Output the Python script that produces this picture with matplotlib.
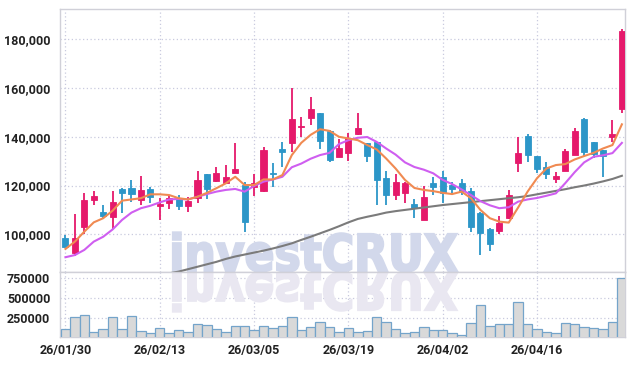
import matplotlib
matplotlib.use("Agg")
import matplotlib.pyplot as plt
import numpy as np
from matplotlib.textpath import TextPath
from matplotlib.patches import PathPatch
from matplotlib.font_manager import FontProperties
import matplotlib.transforms as mtransforms
from matplotlib.ticker import FuncFormatter, FixedLocator

# ---------------- data ----------------
dates = ["26/01/30", "26/02/02", "26/02/03", "26/02/04", "26/02/05", "26/02/06", "26/02/09", "26/02/10",
         "26/02/11", "26/02/12", "26/02/13", "26/02/19", "26/02/20", "26/02/23", "26/02/24", "26/02/25",
         "26/02/26", "26/02/27", "26/03/03", "26/03/04", "26/03/05", "26/03/06", "26/03/09", "26/03/10",
         "26/03/11", "26/03/12", "26/03/13", "26/03/16", "26/03/17", "26/03/18", "26/03/19", "26/03/20",
         "26/03/23", "26/03/24", "26/03/25", "26/03/26", "26/03/27", "26/03/30", "26/03/31", "26/04/01",
         "26/04/02", "26/04/03", "26/04/06", "26/04/07", "26/04/08", "26/04/09", "26/04/10", "26/04/13",
         "26/04/14", "26/04/15", "26/04/16", "26/04/17", "26/04/20", "26/04/21", "26/04/22", "26/04/23",
         "26/04/24", "26/04/27", "26/04/28", "26/04/29"]

opens = [98400, 92200, 103100, 114100, 109000, 107200, 118600, 119000, 114100, 118600,
         111600, 112700, 114500, 111700, 114900, 124700, 122000, 120900, 125200, 120300,
         119500, 117900, 125100, 135000, 137300, 144100, 147900, 149600, 142500, 131800,
         133400, 141000, 137300, 137700, 122900, 116100, 117000, 112400, 105900, 120900,
         123400, 120200, 121100, 117900, 108900, 102300, 101500, 106600, 129300, 140300,
         132100, 127700, 122800, 126100, 132500, 147300, 137800, 134500, 139800, 151300]
highs = [99700, 108200, 116800, 117900, 111900, 117900, 118800, 122300, 123800, 119300,
         114900, 116100, 116100, 115200, 126100, 124900, 127500, 128300, 137500, 121600,
         124700, 135900, 129100, 137700, 159800, 148200, 156400, 149800, 142700, 138900,
         141400, 149600, 137500, 137900, 125900, 124700, 121300, 114300, 119800, 123400,
         126000, 121300, 122700, 118900, 109000, 102400, 107500, 118200, 140000, 141000,
         132200, 129800, 125700, 134800, 143700, 147500, 137900, 134600, 146800, 184000]
lows = [94800, 91100, 100100, 111900, 106100, 102000, 108900, 113400, 111900, 112700,
        105900, 110200, 110000, 109000, 113000, 114300, 121600, 120600, 125000, 101100,
        115700, 117300, 119300, 127700, 133800, 140000, 144800, 134800, 129800, 131600,
        130000, 140700, 129800, 112000, 112000, 114100, 112700, 106600, 105700, 116100,
        113000, 116100, 116100, 101100, 91500, 93300, 100000, 106100, 125700, 129800,
        125000, 122700, 120900, 126000, 132400, 132100, 131100, 123400, 137900, 149600]
closes = [94900, 98400, 114100, 115700, 107500, 113200, 117000, 116500, 118200, 115200,
          112300, 114800, 111600, 113800, 122300, 118700, 125000, 123400, 126600, 105200,
          120900, 134500, 124600, 133800, 147300, 144500, 151200, 138400, 130400, 135200,
          139300, 143400, 132200, 122300, 116100, 121300, 120900, 110900, 115400, 119300,
          116800, 118600, 117900, 103100, 100700, 96000, 104800, 116100, 133200, 132500,
          126900, 124700, 124000, 134100, 142300, 133800, 132900, 132100, 141100, 183300]
volumes = [118000, 262000, 287000, 77000, 114000, 262000, 114000, 275000, 90000, 65000,
           127000, 65000, 102000, 77000, 176000, 164000, 114000, 77000, 151000, 151000,
           102000, 151000, 127000, 151000, 262000, 102000, 139000, 201000, 139000, 77000,
           127000, 77000, 90000, 262000, 201000, 114000, 65000, 77000, 139000, 102000,
           102000, 65000, 40000, 188000, 410000, 151000, 176000, 176000, 447000, 176000,
           114000, 77000, 65000, 188000, 176000, 139000, 127000, 114000, 201000, 743000]
ma_short = [94000, 97000, 101100, 104900, 106600, 109700, 113800, 114300, 114800, 116400,
            116400, 116100, 114800, 114300, 115400, 117000, 118900, 120900, 123600, 120200,
            120200, 122500, 122500, 124300, 132500, 137500, 140800, 143100, 142400, 140000,
            139300, 138600, 136600, 134800, 131100, 127000, 122300, 119000, 118200, 117700,
            117000, 116500, 117500, 114800, 110000, 106600, 105200, 104800, 111000, 117500,
            123000, 127000, 128400, 128800, 130700, 132100, 133400, 135200, 136600, 145100]
ma_mid = [90600, 91500, 93600, 97000, 99000, 102000, 105900, 108900, 110700, 111700,
          113100, 114300, 114500, 114300, 115400, 116500, 117500, 118200, 118600, 117500,
          119800, 121600, 122500, 123600, 127500, 129000, 131000, 132500, 133400, 137000,
          138600, 139600, 139900, 137900, 135200, 132700, 129500, 127600, 126500, 125000,
          122300, 120600, 118400, 116100, 113600, 111900, 110700, 111100, 113400, 114300,
          114900, 115800, 116800, 121000, 125500, 129500, 131800, 132400, 133300, 137500]
ma_long = [np.nan] * 11 + [84000, 84700, 85700, 86700, 87700, 88700, 89900, 90900, 91700,
           92500, 93300, 94200, 95200, 96300, 97700, 99000, 100400, 101800, 103300,
           104900, 106300, 107200, 108000, 108900, 109500, 110000, 110500, 111000, 111500,
           112000, 112400, 112800, 113200, 113600, 114000, 114400, 114800, 115200, 115700,
           116400, 117100, 117800, 118500, 119300, 120000, 120800, 121700, 122700, 124000]
price_ticks = [100000, 120000, 140000, 160000, 180000]
volume_ticks = [250000, 500000, 750000]
watermark = "investCRUX"

# ---------------- style ----------------
UP = "#e5196b"
DOWN = "#2c96c8"
GRID = "#c9cadf"
SPINE = "#d0d0d8"
LABEL_FONT = ["Roboto", "DejaVu Sans"]

W, H = 634, 366
fig = plt.figure(figsize=(W / 100, H / 100), dpi=100)
L, R = 60 / W, 625 / W
ax = fig.add_axes([L, 1 - 272 / H, R - L, (272 - 9) / H])
axv = fig.add_axes([L, 1 - 337 / H, R - L, (337 - 272) / H], sharex=ax)

x = np.arange(len(dates))
o = np.array(opens, float); c = np.array(closes, float)
hi = np.array(highs, float); lo = np.array(lows, float)
cols = [UP if cc >= oo else DOWN for oo, cc in zip(o, c)]
bottoms = np.minimum(o, c)
heights = np.maximum(np.abs(c - o), 450)

ax.vlines(x, lo, hi, colors=cols, linewidth=1.3, zorder=3)
ax.bar(x, heights, bottom=bottoms, width=0.64, color=cols, edgecolor=cols, linewidth=0.6, zorder=4)
ax.plot(x, ma_long, color="#7b7b7b", linewidth=1.5, zorder=5)
ax.plot(x, ma_mid, color="#cf5ef0", linewidth=1.5, zorder=5)
ax.plot(x, ma_short, color="#f08a52", linewidth=1.5, zorder=5)

axv.bar(x, volumes, width=1.0, color="#d9d9d9", edgecolor="#74a4ca", linewidth=0.9, zorder=3)

ax.set_xlim(-0.58, 59.33)
ax.set_ylim(84540, 192400)
axv.set_ylim(19700, 820200)

tick_idx = list(range(0, len(dates), 10))
for a in (ax, axv):
    a.xaxis.set_major_locator(FixedLocator(tick_idx))
    a.grid(True, which="major", color=GRID, linestyle=(0, (1, 2)), linewidth=0.9, zorder=0)
    a.set_axisbelow(True)
    for s in a.spines.values():
        s.set_color(SPINE)
        s.set_linewidth(1.0)
    a.tick_params(length=0, colors="#222222")

ax.yaxis.set_major_locator(FixedLocator(price_ticks))
ax.yaxis.set_major_formatter(FuncFormatter(lambda v, p: f"{int(v):,}"))
axv.yaxis.set_major_locator(FixedLocator(volume_ticks))
axv.yaxis.set_major_formatter(FuncFormatter(lambda v, p: f"{int(v)}"))
axv.set_xticklabels([dates[i] for i in tick_idx])
plt.setp(ax.get_xticklabels(), visible=False)
ax.tick_params(axis="y", pad=7)
axv.tick_params(axis="y", pad=7)
axv.tick_params(axis="x", pad=5)
for lab in ax.get_yticklabels() + axv.get_yticklabels() + axv.get_xticklabels():
    lab.set_fontfamily(LABEL_FONT)
    lab.set_fontsize(9.0)
    lab.set_fontweight("bold")

# ---------------- watermark ----------------
fp = FontProperties(family="DejaVu Sans", weight="bold")
tp = TextPath((0, 0), watermark, size=1, prop=fp)
bb = tp.get_extents()
x0, x1, base, cap = 173, 457, 271, 234
sx = (x1 - x0) / bb.width
sy = (base - cap) / 0.729
t_main = (mtransforms.Affine2D().translate(-bb.x0, 0).scale(sx / W, sy / H)
          .translate(x0 / W, (H - base) / H) + fig.transFigure)
t_refl = (mtransforms.Affine2D().translate(-bb.x0, 0).scale(sx / W, -sy / H)
          .translate(x0 / W, (H - base - 2) / H) + fig.transFigure)
ax.add_patch(PathPatch(tp, transform=t_main, facecolor="#d2d8eb", edgecolor="#d2d8eb",
                       linewidth=1.6, joinstyle="miter", zorder=1))
axv.add_patch(PathPatch(tp, transform=t_refl, facecolor="#e9e7f1", edgecolor="#e9e7f1",
                        linewidth=1.6, joinstyle="miter", zorder=1))

fig.savefig("out.png", dpi=100, facecolor="white")
